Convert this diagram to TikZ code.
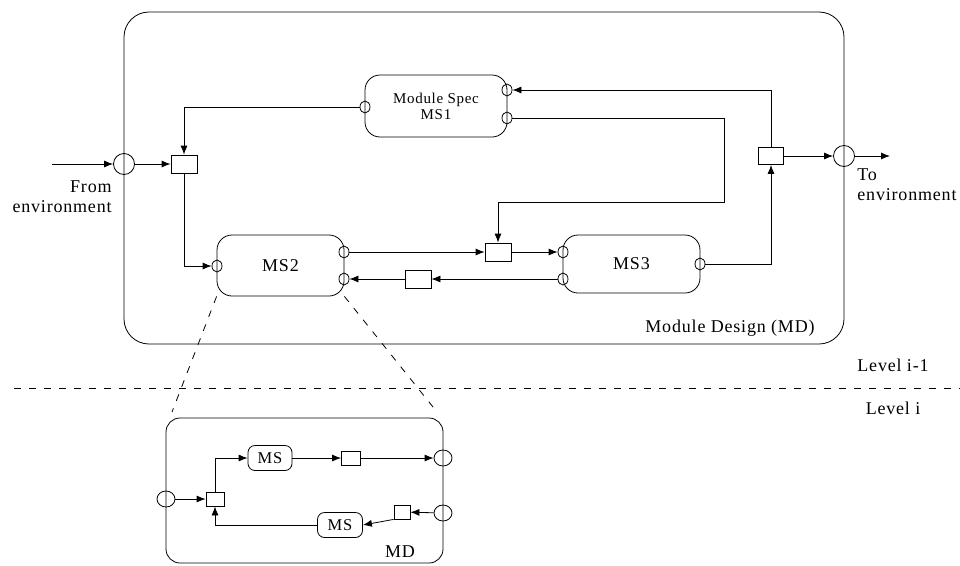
\documentclass[tikz,border=0pt]{standalone}
\usepackage{fontspec}
\setmainfont{Liberation Serif}[LetterSpace=4.5]
\usepackage{tikz}
\usetikzlibrary{shapes.geometric,arrows.meta,positioning,calc}

\begin{document}
\begin{tikzpicture}[
    x=1pt, y=-1pt, line width=0.8pt,
    every node/.style={font=\fontsize{18}{20}\selectfont},
    module/.style={rectangle, rounded corners=15pt, draw},
    port/.style={ellipse, draw, minimum width=10pt, minimum height=12pt, inner sep=0pt},
    gate/.style={rectangle, draw, minimum width=26pt, minimum height=18pt, inner sep=0pt},
    envport/.style={circle, draw, minimum size=21pt, inner sep=0pt},
    smallmod/.style={rectangle, rounded corners=7pt, draw, minimum width=44pt, minimum height=25pt, inner sep=0pt},
    smallgate/.style={rectangle, draw, minimum width=18pt, minimum height=14pt, inner sep=0pt},
    smallport/.style={ellipse, draw, minimum width=18pt, minimum height=16pt, inner sep=0pt},
    arrow/.style={-{Latex[length=9pt,width=7pt]}},
    zoomline/.style={dash pattern=on 7pt off 8pt}
]
\useasboundingbox (0,0) rectangle (960,565);

% Module Design (level i-1)
\node[draw, rounded corners=25pt, minimum width=720pt, minimum height=332pt] (md) at (484,178) {};
\node (mdlabel) at (730,328) {Module Design (MD)};

% Modules
\node[module, minimum width=142pt, minimum height=62pt, align=center,
      font=\fontsize{15}{16}\selectfont] (ms1) at (436,106) {Module Spec\\MS1};
\node[module, minimum width=127pt, minimum height=61pt] (ms2) at (280.5,265.5) {MS2};
\node[module, minimum width=137pt, minimum height=58pt] (ms3) at (631.5,264) {MS3};

% Ports
\node[port] (ms1i) at (365,107) {};
\node[port] (ms1o1) at (507,90) {};
\node[port] (ms1o2) at (507,118) {};
\node[port] (ms2i) at (217,266) {};
\node[port] (ms2o1) at (344,252) {};
\node[port] (ms2o2) at (344,279) {};
\node[port] (ms3i1) at (563,252) {};
\node[port] (ms3i2) at (563,279) {};
\node[port] (ms3o) at (700,264) {};

% Gates
\node[gate] (g1) at (184,164) {};
\node[gate] (g2) at (498,252) {};
\node[gate] (g3) at (418,279) {};
\node[gate, minimum width=25pt, minimum height=17pt] (g4) at (771,156) {};

% Environment
\node[envport] (envin) at (124,164) {};
\node[envport] (envout) at (844,156) {};
\coordinate (src) at (52,164);
\coordinate (dst) at (890,156);
\node[align=right, anchor=east, inner sep=0pt] (fromenv) at (112,197) {From\\environment};
\node[align=left, anchor=west, inner sep=0pt] (toenv) at (857,185) {To\\environment};

% Connections
\draw[arrow] (src) -- (envin);
\draw[arrow] (envin) -- (g1);
\draw[arrow] (ms1i) -| (g1);
\draw[arrow] (g1) |- (ms2i);
\draw[arrow] (ms2o1) -- (g2);
\draw[arrow] (g2) -- (ms3i1);
\draw[arrow] (ms3i2) -- (g3);
\draw[arrow] (g3) -- (ms2o2);
\coordinate (loop) at (724,202);
\draw[arrow] (ms1o2) -| (loop) -| (g2);
\draw[arrow] (ms3o) -| (g4);
\draw[arrow] (g4) |- (ms1o1);
\draw[arrow] (g4) -- (envout);
\draw[arrow] (envout) -- (dst);

% Levels
\coordinate (lvlw) at (14,388);
\coordinate (lvle) at (960,388);
\draw[zoomline] (lvlw) -- (lvle);
\node (lvl1) at (893,365) {Level i-1};
\node (lvl2) at (893,408) {Level i};

% Module Design (level i)
\node[draw, rounded corners=14pt, minimum width=277pt, minimum height=145pt] (inner) at (304.5,490.5) {};
\node (innerlabel) at (400,552) {MD};
\coordinate (zl) at (172,412);
\coordinate (zr) at (437,412);
\draw[zoomline] (ms2.south west) -- (zl);
\draw[zoomline] (ms2.south east) -- (zr);

\node[smallport] (c1) at (166,499) {};
\node[smallport] (c2) at (443,458) {};
\node[smallport] (c3) at (443,513) {};
\node[smallgate] (h1) at (215,499) {};
\node[smallgate, minimum width=19pt] (h2) at (351,458) {};
\node[smallgate, minimum width=16pt] (h3) at (402,512) {};
\node[smallmod, font=\fontsize{16.5}{18}\selectfont] (ma) at (270,458) {MS};
\node[smallmod, minimum width=45pt, font=\fontsize{16.5}{18}\selectfont] (mb) at (340,525) {MS};

\draw[arrow] (c1) -- (h1);
\draw[arrow] (h1) |- (ma);
\draw[arrow] (ma) -- (h2);
\draw[arrow] (h2) -- (c2);
\draw[arrow] (c3) -- (h3);
\draw[arrow] (h3.south west) -- (mb.east);
\draw[arrow] (mb) -| (h1);

\end{tikzpicture}
\end{document}
